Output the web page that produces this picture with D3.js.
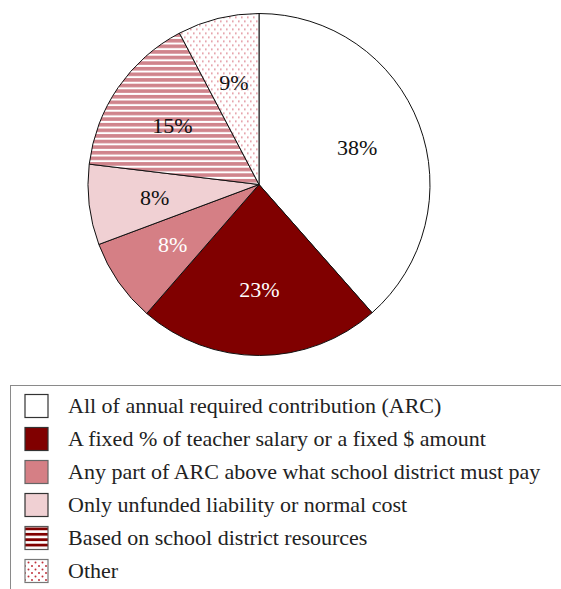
<!DOCTYPE html>
<html>
<head>
<meta charset="utf-8">
<script src="https://cdn.jsdelivr.net/npm/d3@7"></script>
<style>
  html, body { margin: 0; padding: 0; background: #fff; }
  svg { display: block; font-family: "Liberation Serif", "DejaVu Serif", serif; }
</style>
</head>
<body>
<div id="chart"></div>
<script>
// data
var categories = [
  'All of annual required contribution (ARC)',
  'A fixed % of teacher salary or a fixed $ amount',
  'Any part of ARC above what school district must pay',
  'Only unfunded liability or normal cost',
  'Based on school district resources',
  'Other'
];
// slice sizes as drawn (angles measured on the picture)
var shares = [38.5, 22.9, 7.9, 7.6, 15.4, 7.7];
// labels as printed
var labels = ['38%', '23%', '8%', '8%', '15%', '9%'];
var labelColors = ['#111', '#fff', '#fff', '#111', '#111', '#111'];

var W = 561, H = 589;
var cx = 259, cy = 184.5, R = 171;

var svg = d3.select('#chart').append('svg')
  .attr('width', W).attr('height', H);

var defs = svg.append('defs');

// horizontal stripes for pie slice
var st = defs.append('pattern').attr('id', 'stripes')
  .attr('patternUnits', 'userSpaceOnUse').attr('width', 8).attr('height', 5.6);
st.append('rect').attr('width', 8).attr('height', 5.6).attr('fill', '#fff');
st.append('rect').attr('width', 8).attr('height', 3.6).attr('fill', '#d0848c');

// legend stripes (dark red)
var st2 = defs.append('pattern').attr('id', 'stripesLeg')
  .attr('patternUnits', 'userSpaceOnUse').attr('width', 8).attr('height', 5.4)
  .attr('y', 527.5);
st2.append('rect').attr('width', 8).attr('height', 5.4).attr('fill', '#fff');
st2.append('rect').attr('width', 8).attr('height', 2.8).attr('fill', '#800000');

// dots for pie slice
var dt = defs.append('pattern').attr('id', 'dots')
  .attr('patternUnits', 'userSpaceOnUse').attr('width', 6).attr('height', 8);
dt.append('rect').attr('width', 6).attr('height', 8).attr('fill', '#fff');
dt.append('rect').attr('x', 0).attr('y', 0).attr('width', 1.6).attr('height', 1.6).attr('fill', '#e08f99');
dt.append('rect').attr('x', 3).attr('y', 4).attr('width', 1.6).attr('height', 1.6).attr('fill', '#e08f99');

// legend dots
var dt2 = defs.append('pattern').attr('id', 'dotsLeg')
  .attr('patternUnits', 'userSpaceOnUse').attr('width', 7).attr('height', 7)
  .attr('x', 27).attr('y', 561);
dt2.append('rect').attr('width', 7).attr('height', 7).attr('fill', '#fff');
dt2.append('circle').attr('cx', 1.5).attr('cy', 1.5).attr('r', 1).attr('fill', '#c0303a');
dt2.append('circle').attr('cx', 5).attr('cy', 5).attr('r', 1).attr('fill', '#c0303a');

var sliceFills = ['#ffffff', '#800000', '#d57f85', '#f0d0d3', 'url(#stripes)', 'url(#dots)'];
var legendFills = ['#ffffff', '#800000', '#d57f85', '#f0d0d3', 'url(#stripesLeg)', 'url(#dotsLeg)'];
var legendStroke = ['#333', '#333', '#666', '#333', '#555', '#777'];

var pie = d3.pie().sort(null).value(function(d) { return d; });
var arcs = pie(shares);

var arc = d3.arc().innerRadius(0).outerRadius(R);
var labelArc = d3.arc().innerRadius(105).outerRadius(105);

var g = svg.append('g').attr('transform', 'translate(' + cx + ',' + cy + ')');

g.selectAll('path.slice')
  .data(arcs)
  .enter().append('path')
  .attr('class', 'slice')
  .attr('d', arc)
  .attr('fill', function(d, i) { return sliceFills[i]; })
  .attr('stroke', '#111')
  .attr('stroke-width', 1);

g.selectAll('text.lbl')
  .data(arcs)
  .enter().append('text')
  .attr('class', 'lbl')
  .attr('transform', function(d) {
    return 'translate(' + labelArc.centroid(d) + ')';
  })
  .attr('text-anchor', 'middle')
  .attr('dy', '0.35em')
  .attr('font-size', 22)
  .attr('fill', function(d, i) { return labelColors[i]; })
  .text(function(d, i) { return labels[i]; });

// legend box
svg.append('rect')
  .attr('x', 10.5).attr('y', 385.5)
  .attr('width', 560).attr('height', 230)
  .attr('fill', 'none')
  .attr('stroke', '#8a8a8a')
  .attr('stroke-width', 1);

var rowY = d3.scalePoint().domain(d3.range(categories.length)).range([406, 571]);

var leg = svg.selectAll('g.leg')
  .data(categories)
  .enter().append('g')
  .attr('class', 'leg');

leg.append('rect')
  .attr('x', 25).attr('y', function(d, i) { return rowY(i) - 11.5; })
  .attr('width', 23).attr('height', 23)
  .attr('fill', function(d, i) { return legendFills[i]; })
  .attr('stroke', function(d, i) { return legendStroke[i]; })
  .attr('stroke-width', 1.2);

leg.append('text')
  .attr('x', 68).attr('y', function(d, i) { return rowY(i); })
  .attr('dy', '0.32em')
  .attr('font-size', 22)
  .attr('fill', '#222')
  .text(function(d) { return d; });
</script>
</body>
</html>
